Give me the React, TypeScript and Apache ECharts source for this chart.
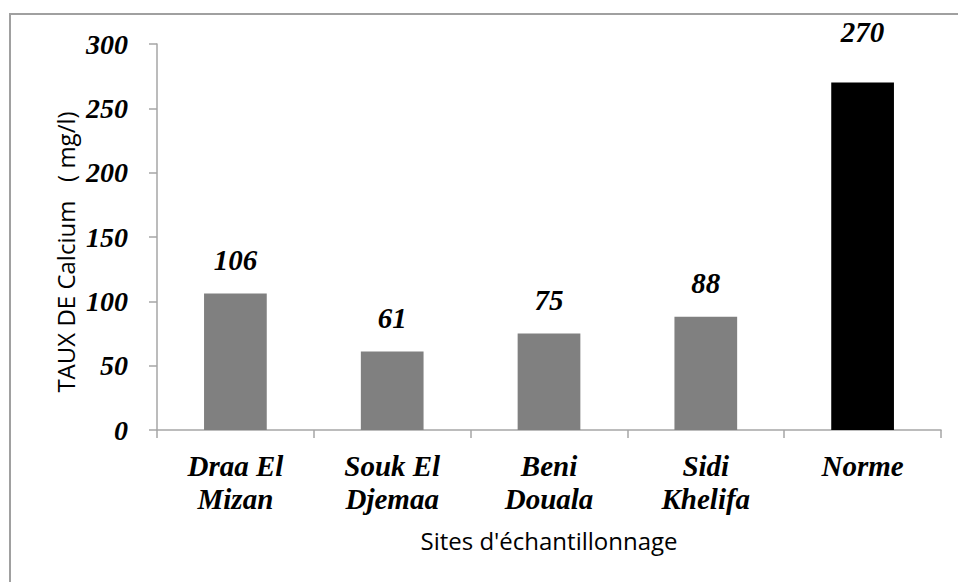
import React, { useEffect, useRef } from "react";
import * as echarts from "echarts";

const categories = ["Draa El\nMizan", "Souk El\nDjemaa", "Beni\nDouala", "Sidi\nKhelifa", "Norme"];
const values = [106, 61, 75, 88, 270];
const yTicks = { min: 0, max: 300, interval: 50 };
const yTitle = "TAUX DE Calcium   ( mg/l)";
const xTitle = "Sites d'échantillonnage";

export default function App() {
  const ref = useRef<HTMLDivElement>(null);
  useEffect(() => {
    if (!ref.current) return;
    const chart = echarts.init(ref.current, null, { renderer: "svg" });
    const serif = "Liberation Serif";
    const sans = "Open Sans";
    const axisGray = "#a6a6a6";
    chart.setOption({
      animation: false,
      backgroundColor: "#ffffff",
      grid: { left: 157, right: 17, top: 44, bottom: 152, containLabel: false },
      graphic: [
        {
          type: "rect",
          shape: { x: 10, y: 14, width: 1200, height: 1000 },
          style: { fill: "none", stroke: "#a0a0a0", lineWidth: 2 },
          silent: true,
        },
        {
          type: "text",
          x: 65,
          y: 252,
          rotation: Math.PI / 2,
          style: {
            text: yTitle,
            fontFamily: sans,
            fontSize: 24,
            fill: "#000",
            align: "center",
            verticalAlign: "middle",
          },
        },
      ],
      xAxis: {
        type: "category",
        data: categories,
        name: xTitle,
        nameLocation: "middle",
        nameGap: 98,
        nameTextStyle: { fontFamily: sans, fontSize: 24, color: "#000" },
        axisLine: { show: true, lineStyle: { color: axisGray, width: 1.5 } },
        axisTick: { show: true, length: 8, alignWithLabel: false, lineStyle: { color: axisGray, width: 1.5 } },
        axisLabel: {
          fontFamily: serif,
          fontStyle: "italic",
          fontWeight: "bold",
          fontSize: 29,
          lineHeight: 33,
          color: "#000",
          margin: 19,
          interval: 0,
        },
        splitLine: { show: false },
      },
      yAxis: {
        type: "value",
        min: yTicks.min,
        max: yTicks.max,
        interval: yTicks.interval,
        axisLine: { show: true, lineStyle: { color: axisGray, width: 1.5 } },
        axisTick: { show: true, length: 8, lineStyle: { color: axisGray, width: 1.5 } },
        axisLabel: {
          fontFamily: serif,
          fontStyle: "italic",
          fontWeight: "bold",
          fontSize: 28,
          color: "#000",
          margin: 29,
        },
        splitLine: { show: false },
      },
      series: [
        {
          type: "bar",
          barWidth: "40%",
          data: values.map((v, i) => ({
            value: v,
            itemStyle: { color: i === values.length - 1 ? "#000000" : "#808080" },
            label: { distance: i === values.length - 1 ? 36 : 19 },
          })),
          label: {
            show: true,
            position: "top",
            fontFamily: serif,
            fontStyle: "italic",
            fontWeight: "bold",
            fontSize: 29,
            color: "#000",
          },
        },
      ],
    });
    return () => chart.dispose();
  }, []);
  return (
    <div
      ref={ref}
      style={{ position: "absolute", left: 0, top: 0, width: 958, height: 582, background: "#fff" }}
    />
  );
}
